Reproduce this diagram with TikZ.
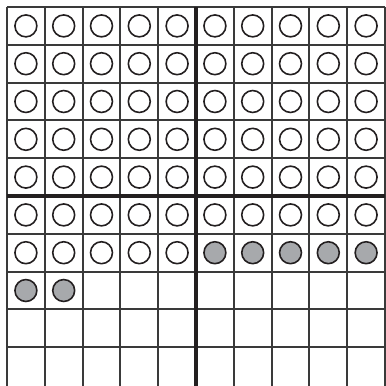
\documentclass[tikz,border=0pt]{standalone}
\definecolor{gridgray}{HTML}{3A3A3A}
\definecolor{inkblack}{HTML}{231F20}
\definecolor{counterfill}{HTML}{A7A9AC}
\tikzset{
  counter/.style={circle, draw=inkblack, line width=1.2pt, minimum size=0.58cm, inner sep=0pt},
  emptycounter/.style={counter, fill=white},
  fullcounter/.style={counter, fill=counterfill}
}
\begin{document}
\begin{tikzpicture}[x=1cm, y=-1cm]
  \useasboundingbox (-0.185,-0.185) rectangle (10.026,10);
  % ten by ten grid, open at the bottom
  \foreach \i in {0,...,10}
    \draw[gridgray, line width=1.5pt] (\i,0) -- (\i,10.1);
  \foreach \j in {0,...,9}
    \draw[gridgray, line width=1.5pt] (0,\j) -- (10,\j);
  \draw[inkblack, line width=3pt] (5,0) -- (5,10.1) (0,5) -- (10,5);
  % white counters
  \foreach \r in {1,...,6}
    \foreach \c in {1,...,10}
      \node[emptycounter] (c-\r-\c) at (\c-0.5,\r-0.5) {};
  \foreach \c in {1,...,5}
    \node[emptycounter] (c-7-\c) at (\c-0.5,6.5) {};
  % gray counters
  \foreach \c in {6,...,10}
    \node[fullcounter] (c-7-\c) at (\c-0.5,6.5) {};
  \foreach \c in {1,2}
    \node[fullcounter] (c-8-\c) at (\c-0.5,7.5) {};
\end{tikzpicture}
\end{document}
